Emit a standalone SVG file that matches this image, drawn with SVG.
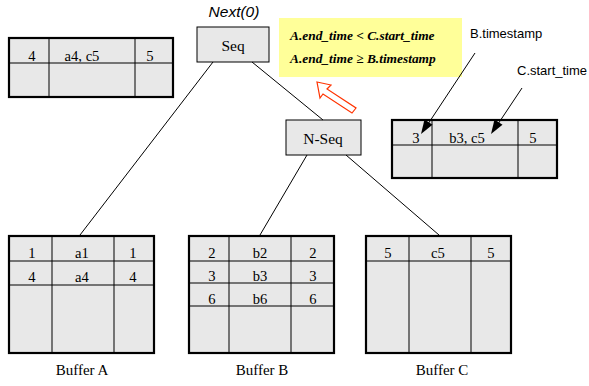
<svg xmlns="http://www.w3.org/2000/svg" width="589" height="386" viewBox="0 0 589 386">
<defs>
<style>
.tb{fill:#e8e8e8;stroke:#000;stroke-width:2.2}
.ln{stroke:#000;stroke-width:1;fill:none}
.nd{fill:#e8e8e8;stroke:#000;stroke-width:1}
.t{font-family:"Liberation Serif",serif;font-size:14.6px;text-anchor:middle;fill:#000}
.n{font-family:"Liberation Serif",serif;font-size:15.5px;text-anchor:middle;fill:#000}
.lb{font-family:"Liberation Serif",serif;font-size:15px;text-anchor:middle;fill:#000}
.s{font-family:"Liberation Sans",sans-serif;font-size:13px;fill:#000}
.c{font-family:"Liberation Serif",serif;font-size:13.4px;font-weight:bold;font-style:italic;fill:#000}
.hd{fill:#000;stroke:none}
</style>
</defs>
<rect width="589" height="386" fill="#fff"/>

<g id="table-top-left">
<rect class="tb" x="9" y="38" width="164" height="59"/>
<line class="ln" x1="9" y1="63" x2="173" y2="63"/>
<line class="ln" x1="49" y1="38" x2="49" y2="97"/>
<line class="ln" x1="135" y1="38" x2="135" y2="97"/>
<text class="t" x="32" y="61">4</text>
<text class="t" x="82" y="61">a4, c5</text>
<text class="t" x="150" y="61">5</text>
</g>

<g id="seq">
<text x="234" y="17" font-family="Liberation Sans, sans-serif" font-size="15.5" font-style="italic" text-anchor="middle">Next(0)</text>
<rect class="nd" x="197" y="27" width="72" height="35"/>
<text class="n" x="233" y="51">Seq</text>
</g>

<g id="condition">
<rect x="279" y="18" width="183" height="59" fill="#ffff99"/>
<text class="c" x="290" y="40">A.end_time &lt; C.start_time</text>
<text class="c" x="290" y="63">A.end_time ≥ B.timestamp</text>
</g>

<g id="hollow-arrow">
<path d="M317,82 L331,85 L327,89 L356,108 L352,113 L323,94 L320,98 Z" fill="#fff" stroke="#ff3300" stroke-width="1.2" stroke-linejoin="miter"/>
</g>

<g id="nseq">
<rect class="nd" x="286" y="120" width="75" height="35"/>
<text class="n" x="323" y="144">N-Seq</text>
</g>

<g id="table-right">
<rect class="tb" x="392" y="120" width="165" height="58"/>
<line class="ln" x1="392" y1="145" x2="557" y2="145"/>
<line class="ln" x1="432" y1="120" x2="432" y2="178"/>
<line class="ln" x1="518" y1="120" x2="518" y2="178"/>
<text class="t" x="416" y="143">3</text>
<text class="t" x="467" y="143">b3, c5</text>
<text class="t" x="533" y="143">5</text>
</g>

<g id="labels">
<text class="s" x="470" y="38">B.timestamp</text>
<text class="s" x="517" y="75">C.start_time</text>
</g>

<g id="buffer-a">
<rect class="tb" x="9" y="236" width="145" height="117"/>
<line class="ln" x1="9" y1="261" x2="154" y2="261"/>
<line class="ln" x1="9" y1="285" x2="154" y2="285"/>
<line class="ln" x1="52" y1="236" x2="52" y2="353"/>
<line class="ln" x1="114" y1="236" x2="114" y2="353"/>
<text class="t" x="32" y="258">1</text>
<text class="t" x="82" y="258">a1</text>
<text class="t" x="133" y="258">1</text>
<text class="t" x="32" y="282">4</text>
<text class="t" x="82" y="282">a4</text>
<text class="t" x="133" y="282">4</text>
<text class="lb" x="82" y="375">Buffer A</text>
</g>

<g id="buffer-b">
<rect class="tb" x="189" y="236" width="145" height="117"/>
<line class="ln" x1="189" y1="261" x2="334" y2="261"/>
<line class="ln" x1="189" y1="283" x2="334" y2="283"/>
<line class="ln" x1="189" y1="306" x2="334" y2="306"/>
<line class="ln" x1="229" y1="236" x2="229" y2="353"/>
<line class="ln" x1="291" y1="236" x2="291" y2="353"/>
<text class="t" x="212" y="258">2</text>
<text class="t" x="260" y="258">b2</text>
<text class="t" x="313" y="258">2</text>
<text class="t" x="212" y="281">3</text>
<text class="t" x="260" y="281">b3</text>
<text class="t" x="313" y="281">3</text>
<text class="t" x="212" y="304">6</text>
<text class="t" x="260" y="304">b6</text>
<text class="t" x="313" y="304">6</text>
<text class="lb" x="262" y="375">Buffer B</text>
</g>

<g id="buffer-c">
<rect class="tb" x="366" y="236" width="145" height="117"/>
<line class="ln" x1="366" y1="261" x2="511" y2="261"/>
<line class="ln" x1="409" y1="236" x2="409" y2="353"/>
<line class="ln" x1="471" y1="236" x2="471" y2="353"/>
<text class="t" x="388" y="258">5</text>
<text class="t" x="438" y="258">c5</text>
<text class="t" x="491" y="258">5</text>
<text class="lb" x="442" y="375">Buffer C</text>
</g>

<g id="connectors">
<line class="ln" x1="213" y1="62" x2="80" y2="235"/>
<line class="ln" x1="252" y1="62" x2="323" y2="120"/>
<line class="ln" x1="307" y1="155" x2="260" y2="235"/>
<line class="ln" x1="346" y1="155" x2="439" y2="235"/>
<line class="ln" x1="475" y1="53" x2="428" y2="124"/>
<polygon class="hd" points="421,134 424.5,119.5 432.5,124.8"/>
<line class="ln" x1="522" y1="88" x2="498" y2="124"/>
<polygon class="hd" points="491,134 494.5,119.5 502.5,124.8"/>
</g>
</svg>
